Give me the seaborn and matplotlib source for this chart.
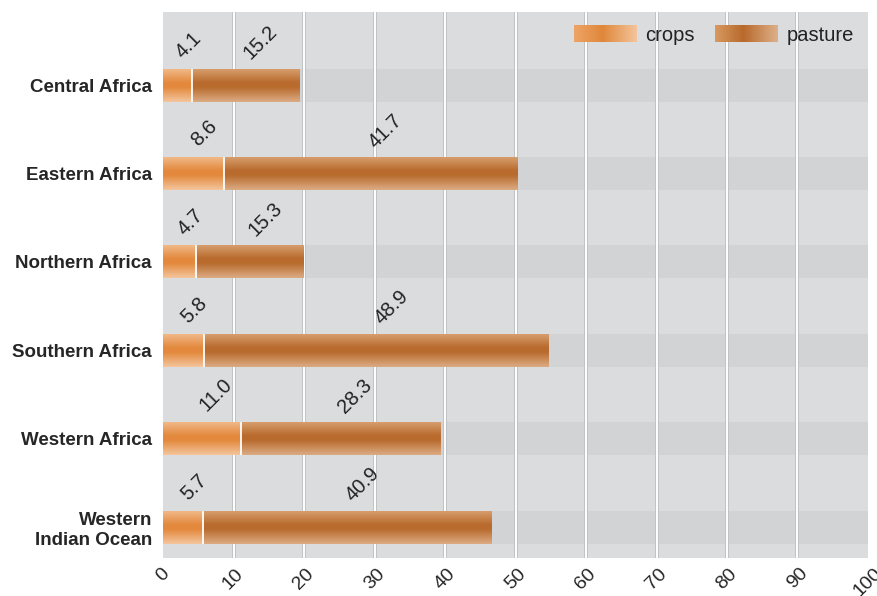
import numpy as np
import pandas as pd
import matplotlib
matplotlib.use("Agg")
import matplotlib.pyplot as plt
import seaborn as sns
from matplotlib.image import BboxImage
from matplotlib.transforms import Bbox, TransformedBbox, ScaledTranslation
from matplotlib.legend_handler import HandlerBase
from matplotlib.patches import Patch
from matplotlib.colors import LinearSegmentedColormap

# Land use per region (million hectares)
regions = ["Central Africa", "Eastern Africa", "Northern Africa",
           "Southern Africa", "Western Africa", "Western\nIndian Ocean"]
crops = [4.1, 8.6, 4.7, 5.8, 11.0, 5.7]
pasture = [15.2, 41.7, 15.3, 48.9, 28.3, 40.9]
x_ticks = list(range(0, 101, 10))
series_names = ["crops", "pasture"]

sns.set_theme(style="white")
plt.rcParams["font.family"] = ["Liberation Sans", "DejaVu Sans"]
plt.rcParams["text.color"] = "#222222"

df = pd.DataFrame({"region": regions, "crops": crops, "pasture": pasture})
df["total"] = df["crops"] + df["pasture"]

BG = "#dbdcde"
BAND = "#d2d3d5"
BAR_H = 0.373

crop_cmap_v = LinearSegmentedColormap.from_list(
    "crop_v", [(0, "#f1b887"), (0.4, "#e48a3f"), (0.55, "#e3883c"), (1, "#f4c59d")])
past_cmap_v = LinearSegmentedColormap.from_list(
    "past_v", [(0, "#d69d6c"), (0.4, "#b96c2e"), (0.55, "#b86b2d"), (1, "#dcab83")])
crop_cmap_h = LinearSegmentedColormap.from_list(
    "crop_h", [(0, "#eea466"), (0.45, "#e0873a"), (1, "#f4c49a")])
past_cmap_h = LinearSegmentedColormap.from_list(
    "past_h", [(0, "#d8995f"), (0.45, "#b8692b"), (1, "#ddb089")])

fig = plt.figure(figsize=(8.78, 5.96), dpi=100)
ax = fig.add_axes([163 / 878, 1 - 558 / 596, 705 / 878, 546 / 596])
ax.set_facecolor(BG)

# stacked bars: full total in pasture colour, crops drawn over it
sns.barplot(data=df, y="region", x="total", orient="h", color="#b86b2d",
            saturation=1, width=BAR_H, linewidth=0, ax=ax)
sns.barplot(data=df, y="region", x="crops", orient="h", color="#e3883c",
            saturation=1, width=BAR_H, linewidth=0, ax=ax)

bars = list(ax.patches)
total_bars, crop_bars = bars[:len(regions)], bars[len(regions):]

grad = np.linspace(0, 1, 64).reshape(-1, 1)
for i, (tb, cb) in enumerate(zip(total_bars, crop_bars)):
    tb.set_zorder(3)
    cb.set_zorder(5)
    for p, cmap, z in ((tb, past_cmap_v, 4), (cb, crop_cmap_v, 6)):
        x0, y0, w, h = p.get_x(), p.get_y(), p.get_width(), p.get_height()
        im = ax.imshow(grad, cmap=cmap, aspect="auto", origin="upper",
                       extent=(x0, x0 + w, y0 + h, y0), zorder=z,
                       interpolation="bicubic")
        im.set_clip_path(p)
    # white divider between crops and pasture
    xe = cb.get_x() + cb.get_width()
    ax.plot([xe, xe], [cb.get_y(), cb.get_y() + cb.get_height()],
            color="white", lw=1.3, zorder=7, solid_capstyle="butt")
    # rotated value labels above each segment
    yt = cb.get_y()
    ax.annotate(f"{crops[i]:.1f}", (cb.get_x() + cb.get_width() / 2, yt),
                xytext=(-4, 5), textcoords="offset points", rotation=45,
                ha="left", va="bottom", fontsize=14.5, zorder=8)
    ax.annotate(f"{pasture[i]:.1f}", ((xe + tb.get_x() + tb.get_width()) / 2, yt),
                xytext=(-4, 4), textcoords="offset points", rotation=45,
                ha="left", va="bottom", fontsize=14.5, zorder=8)

# row bands and vertical grid
for pos in ax.get_yticks():
    ax.axhspan(pos - BAR_H / 2, pos + BAR_H / 2, color=BAND, lw=0, zorder=0.5)
for xv in x_ticks[1:-1]:
    ax.axvline(xv, color="#bdbec0", lw=2.6, zorder=1)
    ax.axvline(xv, color="white", lw=1.4, zorder=1.1)

ax.set_xlim(0, 100)
ax.set_ylim(5.35, -0.826)
ax.set_xticks(x_ticks)
ax.set_xticklabels([str(v) for v in x_ticks], rotation=45, ha="center",
                   fontsize=14)
shift = ScaledTranslation(4 / 100, 0, fig.dpi_scale_trans)
for lab in ax.get_xticklabels():
    lab.set_transform(lab.get_transform() + shift)
ax.set_yticks(range(len(regions)))
ax.set_yticklabels(regions, fontsize=13.5, fontweight="bold", linespacing=1.2)
ax.tick_params(axis="both", length=0)
ax.tick_params(axis="y", pad=8)
ax.tick_params(axis="x", pad=5)
ax.set_xlabel("")
ax.set_ylabel("")
for s in ax.spines.values():
    s.set_visible(False)


class GradientHandler(HandlerBase):
    def __init__(self, cmap):
        super().__init__()
        self.cmap = cmap

    def create_artists(self, legend, orig_handle, xdescent, ydescent,
                       width, height, fontsize, trans):
        bb = Bbox.from_bounds(-xdescent, -ydescent, width, height)
        img = BboxImage(TransformedBbox(bb, trans), cmap=self.cmap,
                        interpolation="bicubic")
        img.set_data(np.linspace(0, 1, 64).reshape(1, -1))
        return [img]


h_crop = Patch(color="#e3883c")
h_past = Patch(color="#b86b2d")
ax.legend([h_crop, h_past], series_names, ncol=2, frameon=False,
          loc="upper right", bbox_to_anchor=(1.0, 1.0), borderaxespad=0.3,
          fontsize=14.5, handlelength=3.1, handleheight=0.85,
          handletextpad=0.45, columnspacing=1.0,
          handler_map={h_crop: GradientHandler(crop_cmap_h),
                       h_past: GradientHandler(past_cmap_h)})

fig.savefig("out.png", dpi=100, facecolor="white")
